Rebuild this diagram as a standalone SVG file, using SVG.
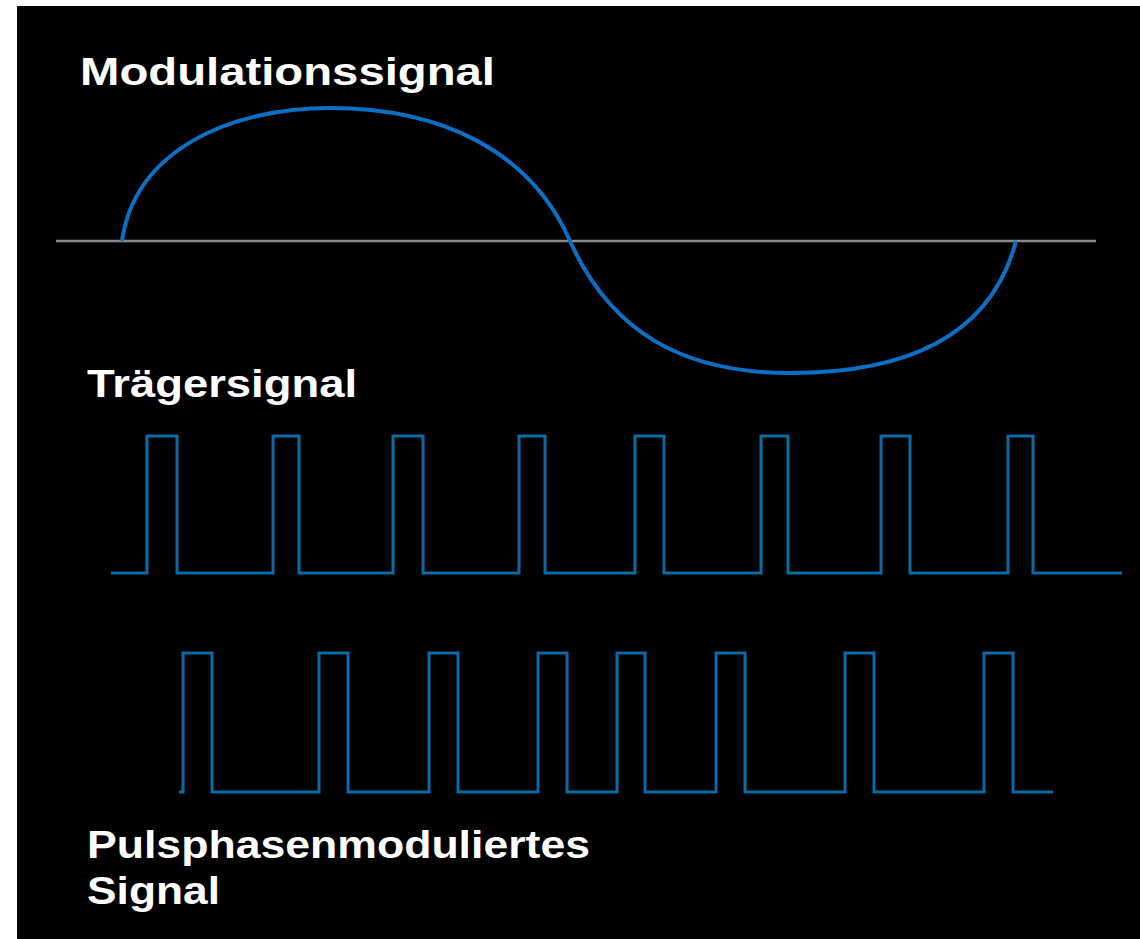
<svg xmlns="http://www.w3.org/2000/svg" width="1140" height="939" viewBox="0 0 1140 939">
<style>
.lbl{font-family:"Liberation Sans",Arial,sans-serif;font-weight:bold;fill:#ffffff;font-size:38px}
.pulse{fill:none;stroke:#0a6aa4;stroke-width:3}
</style>
<rect x="0" y="0" width="1140" height="939" fill="#ffffff"/>
<rect x="17" y="6" width="1123" height="933" fill="#000000"/>
<g id="modulation">
<text class="lbl" x="80" y="85" textLength="415" lengthAdjust="spacingAndGlyphs">Modulationssignal</text>
<line x1="56" y1="241" x2="1096" y2="241" stroke="#8a8a8a" stroke-width="2.5"/>
<path d="M122,241 C135,150 230,108 330,108 C440,108 530,150 570,241 C610,330 680,373 790,373 C900,373 990,340 1016,241" fill="none" stroke="#0b6fc4" stroke-width="4"/>
</g>
<g id="carrier">
<text class="lbl" x="87" y="397" textLength="270" lengthAdjust="spacingAndGlyphs">Trägersignal</text>
<path class="pulse" d="M111,573 H147 V436 H177 V573 H273 V436 H299 V573 H393 V436 H423 V573 H519 V436 H545 V573 H635 V436 H664 V573 H761 V436 H788 V573 H881 V436 H910 V573 H1008 V436 H1033 V573 H1122"/>
</g>
<g id="ppm">
<path class="pulse" d="M179,792 H183 V653 H212 V792 H319 V653 H348 V792 H429 V653 H458 V792 H538 V653 H567 V792 H617 V653 H645 V792 H716 V653 H745 V792 H845 V653 H874 V792 H984 V653 H1013 V792 H1053"/>
<text class="lbl" x="87" y="858" textLength="503" lengthAdjust="spacingAndGlyphs">Pulsphasenmoduliertes</text>
<text class="lbl" x="87" y="904" textLength="133" lengthAdjust="spacingAndGlyphs">Signal</text>
</g>
</svg>
